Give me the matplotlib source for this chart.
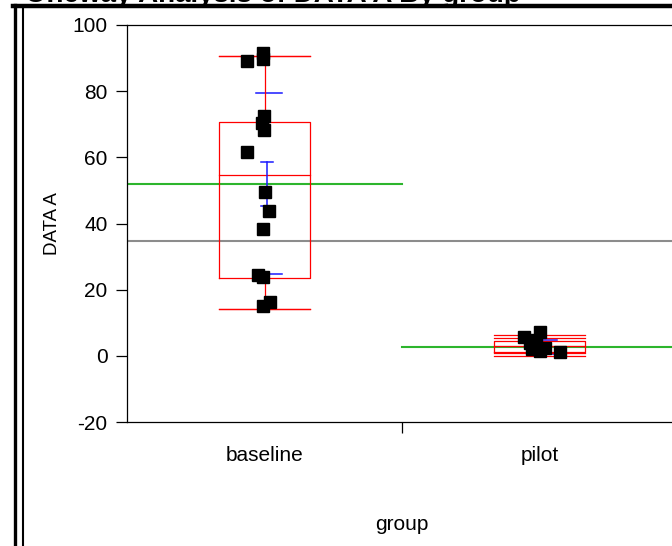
"""Oneway analysis of DATA A by group (JMP style box plot with jittered points)."""

import matplotlib.pyplot as plt
from matplotlib.lines import Line2D

plt.rcParams["font.family"] = ["Liberation Sans", "DejaVu Sans"]
plt.rcParams["axes.unicode_minus"] = False

W, H = 672, 546

GROUPS = ["baseline", "pilot"]

BASELINE_VALUES = [91.6, 89.6, 89.0, 72.5, 70.4, 68.3, 61.6, 49.5, 43.7, 38.2, 24.5, 23.9, 16.3, 15.1]
BASELINE_JITTER = [-0.005, -0.005, -0.064, -0.002, -0.009, -0.002, -0.064, 0.002, 0.016, -0.005, -0.024, -0.005, 0.020, -0.005]
PILOT_VALUES = [7.1, 5.7, 4.8, 3.9, 2.4, 2.1, 1.5, 1.2]
PILOT_JITTER = [0.002, -0.056, -0.013, -0.035, 0.020, -0.027, 0.002, 0.075]

# summary statistics drawn by JMP
WHISKER_HI = [90.6, 6.3]
INNER_HI = [90.6, 5.4]
Q3 = [70.7, 4.5]
MEDIAN = [54.7, 2.9]
Q1 = [23.6, 1.2]
INNER_LO = [14.2, 0.8]
WHISKER_LO = [14.2, 0.0]
GROUP_MEAN = [52.0, 2.7]
STD_DEV = [27.3, 2.1]
MEAN_CI = [6.6, 1.0]
GRAND_MEAN = 34.7

RED = "#ff0000"
GREEN = "#2db52d"
BLUE = "#1a1aff"
GRAY = "#8c8c8c"


def px(x, y):
    return x / W, 1 - y / H


fig = plt.figure(figsize=(W / 100, H / 100), dpi=100)
ax = fig.add_axes([127 / W, 124 / H, 550 / W, 397 / H])

half = 0.165
for i, name in enumerate(GROUPS):
    c = i + 0.5
    # quantile box
    ax.plot([c - half, c + half, c + half, c - half, c - half], [Q1[i], Q1[i], Q3[i], Q3[i], Q1[i]],
            color=RED, lw=0.9, zorder=3)
    ax.plot([c - half, c + half], [MEDIAN[i]] * 2, color=RED, lw=0.9, zorder=3)
    for v in (WHISKER_HI[i], INNER_HI[i], INNER_LO[i], WHISKER_LO[i]):
        ax.plot([c - half, c + half], [v, v], color=RED, lw=0.9, zorder=3)
    ax.plot([c, c], [Q3[i], WHISKER_HI[i]], color=RED, lw=0.9, zorder=3)
    ax.plot([c, c], [Q1[i], WHISKER_LO[i]], color=RED, lw=0.9, zorder=3)
    # group mean
    ax.plot([i, i + 1], [GROUP_MEAN[i]] * 2, color=GREEN, lw=1.5, zorder=2)
    # std dev lines and mean error bar
    for s in (1, -1):
        ax.plot([c - 0.03, c + 0.065], [GROUP_MEAN[i] + s * STD_DEV[i]] * 2, color=BLUE, lw=1.1, zorder=2.5)
    xe = c + 0.009
    ax.plot([xe, xe], [GROUP_MEAN[i] - MEAN_CI[i], GROUP_MEAN[i] + MEAN_CI[i]], color=BLUE, lw=1.1, zorder=4)
    for s in (1, -1):
        ax.plot([xe - 0.022, xe + 0.022], [GROUP_MEAN[i] + s * MEAN_CI[i]] * 2, color=BLUE, lw=1.1, zorder=4)

ax.axhline(GRAND_MEAN, color=GRAY, lw=1.5, zorder=1)

for i, (vals, jit) in enumerate([(BASELINE_VALUES, BASELINE_JITTER), (PILOT_VALUES, PILOT_JITTER)]):
    ax.plot([i + 0.5 + j for j in jit], vals, "s", color="black", ms=9, mec="black", zorder=5, ls="")

ax.set_xlim(0, 2)
ax.set_ylim(-20, 100)
ax.set_yticks(range(-20, 101, 20))
ax.set_xticks([1])
ax.set_xticklabels([""])
ax.set_xticks([0.5, 1.5], minor=True)
ax.set_xticklabels(GROUPS, minor=True)
ax.tick_params(axis="x", which="minor", length=0, pad=17, labelsize=15)
ax.tick_params(axis="both", which="major", length=8, width=0.9, labelsize=15, direction="out")
ax.tick_params(axis="y", pad=6)
for side in ("left", "bottom", "top", "right"):
    ax.spines[side].set_linewidth(0.9)
ax.set_xlabel("group", fontsize=15, labelpad=36)
ax.set_ylabel("DATA A", fontsize=13.5, labelpad=8)

# title, mostly cut off at the top edge, and the JMP report frame
fig.text(25 / W, 1 - 2.5 / H, "Oneway Analysis of DATA A By group", fontsize=20, fontweight="bold",
         va="baseline", ha="left")
fig.add_artist(Line2D(*zip(px(13, 6), px(W, 6)), color="black", lw=3.2))
fig.add_artist(Line2D(*zip(px(14.5, 5), px(14.5, H)), color="black", lw=2.4))
fig.add_artist(Line2D(*zip(px(23, 8), px(23, H)), color="black", lw=1.5))

fig.savefig("out.png", dpi=100)
